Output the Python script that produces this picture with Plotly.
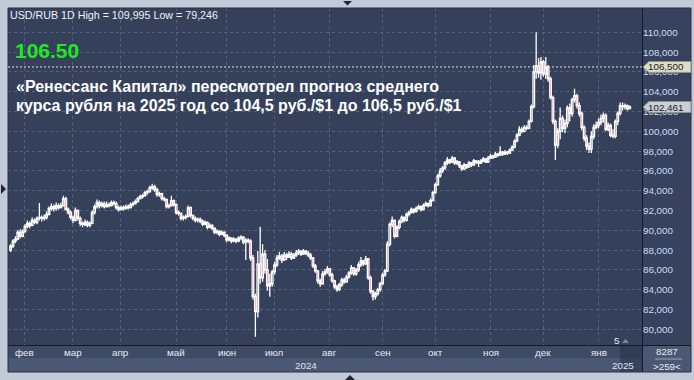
import plotly.graph_objects as go

# ---------------- data ----------------
opens = [
    88.0, 88.4, 88.9, 89.1, 89.8, 89.4, 89.9, 90.4, 90.7, 90.5,
    91.0, 90.8, 91.2, 91.3, 91.2, 91.3, 91.6, 92.2, 92.4, 92.2,
    92.5, 92.3, 92.5, 93.2, 92.1, 91.8, 91.3, 91.0, 92.0, 91.2,
    90.7, 90.6, 90.8, 90.5, 90.7, 91.8, 92.4, 92.8, 92.5, 92.7,
    92.4, 92.6, 92.5, 92.8, 92.7, 92.3, 92.1, 92.3, 92.2, 92.4,
    92.3, 92.6, 92.7, 92.9, 93.2, 93.4, 93.5, 93.8, 93.9, 94.3,
    94.4, 94.1, 93.6, 93.7, 93.2, 93.1, 92.4, 92.5, 93.0, 92.6,
    91.8, 91.7, 91.2, 91.3, 91.4, 92.3, 91.5, 91.2, 91.0, 91.1,
    90.9, 90.6, 90.8, 90.3, 90.5, 90.2, 89.8, 89.9, 89.6, 89.8,
    89.5, 89.0, 89.2, 88.9, 89.1, 88.9, 89.2, 89.3, 88.8, 89.0,
    88.9, 87.2, 83.3, 81.8, 86.6, 85.2, 87.6, 86.0, 84.4, 84.6,
    85.8, 86.5, 87.2, 87.4, 87.0, 87.5, 87.3, 87.6, 87.2, 87.5,
    87.7, 87.9, 87.6, 87.9, 87.7, 87.5, 87.2, 86.4, 85.9, 84.9,
    84.6, 85.6, 85.8, 86.1, 85.5, 84.9, 84.3, 84.0, 84.5, 85.0,
    84.8, 85.3, 85.7, 86.2, 85.6, 86.0, 86.5, 86.9, 86.6, 87.1,
    85.2, 83.8, 83.3, 83.6, 84.0, 84.6, 85.5, 85.9, 88.6, 90.6,
    91.0, 89.4, 90.3, 90.9, 91.3, 91.0, 91.6, 91.8, 92.1, 91.9,
    92.2, 92.4, 92.1, 92.5, 92.7, 92.5, 93.0, 93.8, 94.6, 95.5,
    96.0, 96.3, 96.8, 97.1, 96.9, 97.3, 96.8, 96.9, 96.5, 96.2,
    96.6, 96.4, 96.8, 96.6, 97.0, 96.9, 96.8, 97.0, 97.2, 96.9,
    97.3, 97.5, 97.4, 97.7, 97.6, 97.9, 97.7, 97.9, 97.8, 98.1,
    98.4, 99.0, 99.6, 100.2, 100.0, 100.4, 100.3, 101.0, 102.5, 106.0,
    106.6, 105.9, 107.0, 105.8, 106.5, 105.3, 103.4, 101.0, 98.6, 100.0,
    101.3, 100.3, 100.8, 102.4, 101.8, 103.2, 103.6, 102.6, 101.8, 100.4,
    99.3, 98.5, 98.2, 99.5, 100.4, 100.6, 100.9, 101.3, 101.6, 100.2,
    100.6, 99.6, 99.5, 101.0, 101.8, 102.6, 102.5, 102.6, 102.3,
]
highs = [
    88.6, 89.1, 89.4, 90.0, 90.1, 90.1, 90.6, 91.0, 90.9, 91.3,
    91.2, 91.4, 92.75, 91.5, 91.6, 91.9, 92.4, 92.7, 92.6, 92.8,
    92.7, 92.8, 93.5, 93.4, 92.3, 92.0, 91.5, 92.3, 92.1, 91.4,
    90.9, 91.1, 91.0, 90.9, 92.0, 92.6, 93.1, 93.0, 92.9, 92.9,
    92.9, 92.8, 93.0, 93.0, 92.9, 92.5, 92.5, 92.5, 92.6, 92.6,
    92.8, 92.9, 93.1, 93.4, 93.6, 93.7, 94.0, 94.1, 94.5, 94.7,
    94.6, 94.3, 93.9, 93.8, 93.4, 93.2, 92.7, 93.5, 93.1, 92.7,
    92.0, 91.8, 91.5, 91.6, 92.5, 92.4, 91.6, 91.4, 91.3, 91.3,
    91.1, 91.0, 90.9, 90.7, 90.6, 90.3, 90.1, 90.0, 90.0, 89.9,
    89.6, 89.4, 89.3, 89.3, 89.2, 89.4, 89.5, 89.4, 89.2, 89.2,
    89.1, 87.5, 83.6, 87.9, 90.35, 88.6, 88.0, 87.1, 85.6, 86.0,
    86.8, 87.5, 87.8, 87.6, 87.8, 87.7, 87.9, 87.8, 87.7, 88.0,
    88.1, 88.0, 88.1, 88.0, 87.9, 87.7, 87.3, 86.6, 86.0, 85.1,
    85.9, 86.1, 86.4, 86.2, 85.7, 85.0, 84.5, 84.7, 85.2, 85.2,
    85.5, 85.9, 86.5, 86.3, 86.2, 86.8, 87.3, 87.0, 87.4, 87.2,
    85.4, 84.0, 83.8, 84.2, 84.8, 85.7, 86.1, 88.9, 90.8, 91.4,
    91.1, 90.5, 91.1, 91.5, 91.4, 91.8, 92.0, 92.3, 92.2, 92.4,
    92.6, 92.5, 92.7, 92.9, 92.8, 93.2, 94.0, 94.8, 95.7, 96.3,
    96.5, 97.0, 97.4, 97.2, 97.5, 97.4, 97.1, 97.0, 96.6, 96.8,
    96.7, 97.0, 96.9, 97.2, 97.1, 97.1, 97.2, 97.4, 97.3, 97.5,
    97.7, 97.6, 97.9, 97.8, 98.5, 98.0, 98.1, 98.0, 98.3, 98.6,
    99.2, 99.8, 100.5, 100.4, 100.6, 100.6, 101.2, 102.7, 106.7, 109.995,
    107.4, 107.5, 107.2, 107.5, 106.7, 105.5, 103.6, 101.2, 100.3, 102.4,
    101.6, 101.2, 102.6, 102.8, 103.4, 104.3, 103.8, 102.9, 102.0, 100.6,
    99.6, 98.9, 100.0, 100.7, 101.0, 101.3, 101.7, 101.9, 101.8, 100.9,
    100.8, 100.2, 101.2, 102.0, 102.9, 102.9, 102.8, 102.7, 102.6,
]
lows = [
    87.8, 88.2, 88.7, 89.0, 89.2, 89.3, 89.7, 90.2, 90.2, 90.4,
    90.6, 90.6, 91.0, 90.9, 91.0, 91.1, 91.5, 92.0, 91.9, 92.0,
    92.1, 92.2, 92.4, 92.0, 91.6, 91.1, 90.7, 90.9, 91.0, 90.4,
    90.3, 90.4, 90.3, 90.3, 90.6, 91.6, 92.2, 92.2, 92.3, 92.2,
    92.3, 92.3, 92.4, 92.5, 92.1, 91.9, 92.0, 92.0, 92.1, 92.1,
    92.2, 92.4, 92.6, 92.8, 93.1, 93.2, 93.4, 93.6, 93.8, 94.1,
    93.9, 93.4, 93.4, 93.0, 92.9, 92.2, 92.2, 92.4, 92.4, 91.6,
    91.5, 91.0, 91.0, 91.1, 91.3, 91.3, 91.0, 90.8, 90.8, 90.7,
    90.4, 90.5, 90.1, 90.2, 90.0, 89.6, 89.6, 89.4, 89.5, 89.3,
    88.8, 88.9, 88.7, 88.8, 88.7, 88.8, 89.0, 88.6, 87.0, 88.7,
    86.9, 83.0, 79.246, 81.2, 84.6, 84.8, 85.6, 83.9, 83.3, 84.3,
    85.5, 86.3, 87.0, 86.7, 86.9, 87.0, 87.2, 87.0, 87.1, 87.3,
    87.5, 87.4, 87.5, 87.5, 87.3, 87.0, 86.2, 85.7, 84.6, 84.3,
    84.5, 85.4, 85.6, 85.3, 84.7, 84.1, 83.8, 83.9, 84.3, 84.6,
    84.7, 85.1, 85.5, 85.4, 85.4, 85.8, 86.3, 86.4, 86.5, 85.0,
    83.6, 82.9, 83.0, 83.4, 83.8, 84.5, 85.3, 85.8, 88.4, 90.3,
    89.2, 89.3, 90.1, 90.7, 90.8, 90.9, 91.4, 91.7, 91.7, 91.8,
    92.1, 91.9, 92.0, 92.4, 92.3, 92.4, 92.9, 93.7, 94.5, 95.3,
    95.8, 96.1, 96.6, 96.7, 96.8, 96.6, 96.6, 96.3, 96.0, 96.1,
    96.2, 96.3, 96.4, 96.5, 96.7, 96.4, 96.7, 96.9, 96.8, 96.8,
    97.2, 97.2, 97.3, 97.4, 97.5, 97.5, 97.6, 97.6, 97.7, 98.0,
    98.3, 98.9, 99.5, 99.8, 99.9, 100.1, 100.2, 100.9, 102.3, 105.3,
    105.4, 105.2, 105.5, 105.3, 105.0, 103.2, 100.7, 97.1, 98.3, 99.2,
    99.9, 99.8, 100.4, 101.0, 101.5, 102.9, 102.3, 101.5, 100.1, 99.0,
    98.1, 97.8, 97.8, 99.2, 100.2, 100.3, 100.6, 100.9, 100.0, 100.0,
    99.4, 99.3, 99.3, 100.6, 101.6, 102.1, 102.2, 102.1, 102.2,
]
closes = [
    88.4, 88.9, 89.1, 89.8, 89.4, 89.9, 90.4, 90.7, 90.5, 91.0,
    90.8, 91.2, 91.3, 91.2, 91.3, 91.6, 92.2, 92.4, 92.2, 92.5,
    92.3, 92.5, 93.2, 92.1, 91.8, 91.3, 91.0, 92.0, 91.2, 90.7,
    90.6, 90.8, 90.5, 90.7, 91.8, 92.4, 92.8, 92.5, 92.7, 92.4,
    92.6, 92.5, 92.8, 92.7, 92.3, 92.1, 92.3, 92.2, 92.4, 92.3,
    92.6, 92.7, 92.9, 93.2, 93.4, 93.5, 93.8, 93.9, 94.3, 94.4,
    94.1, 93.6, 93.7, 93.2, 93.1, 92.4, 92.5, 93.0, 92.6, 91.8,
    91.7, 91.2, 91.3, 91.4, 92.3, 91.5, 91.2, 91.0, 91.1, 90.9,
    90.6, 90.8, 90.3, 90.5, 90.2, 89.8, 89.9, 89.6, 89.8, 89.5,
    89.0, 89.2, 88.9, 89.1, 88.9, 89.2, 89.3, 88.8, 89.0, 88.9,
    87.2, 83.3, 81.8, 86.6, 85.2, 87.6, 86.0, 84.4, 84.6, 85.8,
    86.5, 87.2, 87.4, 87.0, 87.5, 87.3, 87.6, 87.2, 87.5, 87.7,
    87.9, 87.6, 87.9, 87.7, 87.5, 87.2, 86.4, 85.9, 84.9, 84.6,
    85.6, 85.8, 86.1, 85.5, 84.9, 84.3, 84.0, 84.5, 85.0, 84.8,
    85.3, 85.7, 86.2, 85.6, 86.0, 86.5, 86.9, 86.6, 87.1, 85.2,
    83.8, 83.3, 83.6, 84.0, 84.6, 85.5, 85.9, 88.6, 90.6, 91.0,
    89.4, 90.3, 90.9, 91.3, 91.0, 91.6, 91.8, 92.1, 91.9, 92.2,
    92.4, 92.1, 92.5, 92.7, 92.5, 93.0, 93.8, 94.6, 95.5, 96.0,
    96.3, 96.8, 97.1, 96.9, 97.3, 96.8, 96.9, 96.5, 96.2, 96.6,
    96.4, 96.8, 96.6, 97.0, 96.9, 96.8, 97.0, 97.2, 96.9, 97.3,
    97.5, 97.4, 97.7, 97.6, 97.9, 97.7, 97.9, 97.8, 98.1, 98.4,
    99.0, 99.6, 100.2, 100.0, 100.4, 100.3, 101.0, 102.5, 106.0, 106.6,
    105.9, 107.0, 105.8, 106.5, 105.3, 103.4, 101.0, 98.6, 100.0, 101.3,
    100.3, 100.8, 102.4, 101.8, 103.2, 103.6, 102.6, 101.8, 100.4, 99.3,
    98.5, 98.2, 99.5, 100.4, 100.6, 100.9, 101.3, 101.6, 100.2, 100.6,
    99.6, 99.5, 101.0, 101.8, 102.6, 102.5, 102.6, 102.3, 102.461,
]
bar_index = list(range(len(closes)))

month_labels = ["фев", "мар", "апр", "май", "июн", "июл", "авг", "сен", "окт", "ноя", "дек", "янв"]
month_tick_idx = [6, 26, 46, 69, 90, 110, 133, 155, 177, 200, 222, 245]
year_labels = ["2024", "2025"]
year_label_idx = [123, 255]
price_ticks = list(range(80, 111, 2))
price_tick_text = [f"{v},000" for v in price_ticks]
forecast_level = 106.5
forecast_text = "106,500"
last_price = 102.461
last_text = "102,461"
header_text = "USD/RUB 1D High = 109,995 Low = 79,246"
big_value_text = "106.50"
news_line1 = "«Ренессанс Капитал» пересмотрел прогноз среднего"
news_line2 = "курса рубля на 2025 год со 104,5 руб./$1 до 106,5 руб./$1"
corner_top = "8287"
corner_bottom = ">259<"
marker_text = "5"

# ---------------- layout helpers ----------------
W, H = 694, 380
def PX(x):
    return x / W
def PY(y):
    return 1 - y / H

FONT = "Liberation Sans, Arial, sans-serif"
PLOT_BG = "#35405a"
PANEL_BG = "#37435e"
MONTH_BAND = "#3f4b65"
YEAR_BAND = "#4a5873"
FRAME = "#c1cbd8"
GRID = "#56637f"
EDGE = "#151a24"

fig = go.Figure()
fig.add_trace(go.Candlestick(
    x=bar_index, open=opens, high=highs, low=lows, close=closes,
    increasing=dict(line=dict(color="#ffffff", width=1.3), fillcolor=PLOT_BG),
    decreasing=dict(line=dict(color="#ffffff", width=1.3), fillcolor="#ff0a3c"),
    whiskerwidth=0, hoverinfo="skip", showlegend=False,
))

shapes = []
def rect(x0, y0, x1, y1, fill, line=None, layer="below"):
    shapes.append(dict(type="rect", xref="paper", yref="paper",
                       x0=PX(x0), x1=PX(x1), y0=PY(y1), y1=PY(y0),
                       fillcolor=fill, line=dict(width=0 if line is None else 1,
                                                 color=line or fill),
                       layer=layer))

def pline(x0, y0, x1, y1, color, width=1, dash=None):
    d = dict(type="line", xref="paper", yref="paper",
             x0=PX(x0), x1=PX(x1), y0=PY(y0), y1=PY(y1),
             line=dict(color=color, width=width), layer="above")
    if dash:
        d["line"]["dash"] = dash
    shapes.append(d)

# panels
rect(642, 8, 691, 345, PANEL_BG)
rect(8, 345, 691, 358, MONTH_BAND)
rect(8, 358, 691, 372, YEAR_BAND)
rect(642, 345, 691, 372, YEAR_BAND)
rect(620, 346, 642, 372, "rgba(40,50,72,0.55)", layer="above")
# separators / border
pline(8, 345.5, 691, 345.5, EDGE)
pline(642.5, 8, 642.5, 372, EDGE)
shapes.append(dict(type="rect", xref="paper", yref="paper",
                   x0=PX(8), x1=PX(691), y0=PY(372), y1=PY(8),
                   line=dict(color="#2a3040", width=1), layer="above"))
pline(655, 359, 682, 359, "#9aa6b8")

# forecast dotted line across the plot
shapes.append(dict(type="line", xref="paper", yref="y",
                   x0=PX(8), x1=PX(642), y0=forecast_level, y1=forecast_level,
                   line=dict(color="#e6e6da", width=1, dash="2px,2px"), layer="above"))

# price tags on the right scale
def tag(level, fill):
    h = 0.55
    x_tip, x_body, x_end = PX(643), PX(649), PX(691)
    path = (f"M {x_tip},{level} L {x_body},{level + h} L {x_end},{level + h} "
            f"L {x_end},{level - h} L {x_body},{level - h} Z")
    shapes.append(dict(type="path", xref="paper", yref="y", path=path,
                       fillcolor=fill, line=dict(color="#8d927f", width=1), layer="above"))

tag(forecast_level, "#dcdec8")
tag(last_price, "#c9ced9")

# small frame arrows
def tri(points, color):
    p = " L ".join(f"{PX(x)},{PY(y)}" for x, y in points)
    shapes.append(dict(type="path", xref="paper", yref="paper", path=f"M {p} Z",
                       fillcolor=color, line=dict(width=0), layer="above"))

tri([(1, 184), (6, 189), (1, 194)], "#1f2533")
tri([(343, 1), (352, 1), (347.5, 5.5)], "#1f2533")
tri([(345, 380), (355, 380), (350, 375)], "#1f2533")
tri([(622, 343), (629, 343), (625.5, 339)], "#7d879b")

annotations = []
def text(x, y, s, size, color, xanchor="left", bold=False, xref="paper"):
    annotations.append(dict(
        x=x if xref == "x" else PX(x), y=PY(y), xref=xref, yref="paper",
        text=f"<b>{s}</b>" if bold else s, showarrow=False,
        xanchor=xanchor, yanchor="middle",
        font=dict(family=FONT, size=size, color=color), borderpad=0))

text(9, 15, header_text, 10.7, "#eef2f8")
text(14, 50.5, big_value_text, 21, "#22e622", bold=True)
text(15, 86, news_line1, 16, "#ffffff", bold=True)
text(15, 105.5, news_line2, 16, "#ffffff", bold=True)

for idx, lab in zip(month_tick_idx, month_labels):
    text(idx, 352.5, lab, 9.8, "#e4eaf4", xanchor="center", xref="x")
for idx, lab in zip(year_label_idx, year_labels):
    text(idx, 365, lab, 9.8, "#dfe5ef", xanchor="center", xref="x")

text(647, 66.0, forecast_text, 9.8, "#1c1c1c")
text(647, 107.3, last_text, 9.8, "#1c1c1c")
text(667, 351.5, corner_top, 9.8, "#e6ebf3", xanchor="center")
text(667, 366, corner_bottom, 9.8, "#e6ebf3", xanchor="center")
text(617, 340.5, marker_text, 9.8, "#e6ebf3", xanchor="center")

y_top = 110 + (32.3 - 8) / 9.9
y_bot = 110 - (345 - 32.3) / 9.9

fig.update_layout(
    width=W, height=H, autosize=False,
    margin=dict(l=0, r=0, t=0, b=0, pad=0),
    paper_bgcolor=FRAME, plot_bgcolor=PLOT_BG,
    shapes=shapes, annotations=annotations,
    font=dict(family=FONT, size=10, color="#e4eaf4"),
    showlegend=False, hovermode=False, boxgap=0.05,
    xaxis=dict(domain=[PX(8), PX(642)], range=[-1.08, 263.1],
               tickvals=month_tick_idx, showticklabels=False, ticks="",
               showgrid=True, gridcolor=GRID, griddash="3px,3px", gridwidth=1,
               zeroline=False, showline=False, rangeslider=dict(visible=False),
               fixedrange=True),
    yaxis=dict(domain=[PY(345), PY(8)], range=[y_bot, y_top], side="right",
               tickvals=price_ticks, ticktext=price_tick_text, ticks="",
               tickfont=dict(family=FONT, size=9.8, color="#cddcf2"),
               showgrid=True, gridcolor=GRID, griddash="3px,3px", gridwidth=1,
               zeroline=False, showline=False, fixedrange=True),
)

fig.write_html("out.html", include_plotlyjs=True, full_html=True,
               config={"displayModeBar": False, "staticPlot": True})
